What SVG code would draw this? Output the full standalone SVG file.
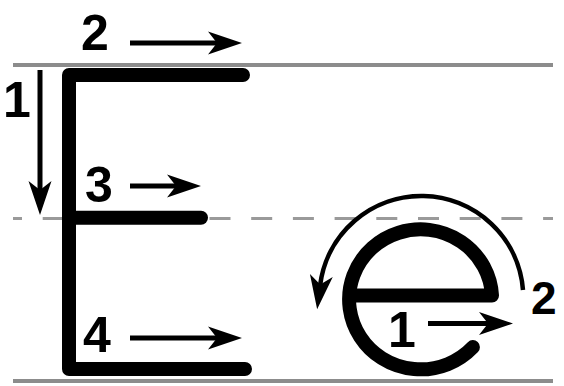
<svg xmlns="http://www.w3.org/2000/svg" width="564" height="386" viewBox="0 0 564 386">
  <style>
    .guide { stroke: #8c8c8c; stroke-width: 4; fill: none; }
    .dash { stroke: #9a9a9a; stroke-width: 3; stroke-dasharray: 21 20.7; stroke-dashoffset: 12; fill: none; }
    .stroke { stroke: #000; stroke-width: 14; fill: none; stroke-linecap: round; stroke-linejoin: round; }
    .arrow { stroke: #000; stroke-width: 5; fill: none; marker-end: url(#head); }
    .num { font-family: "Liberation Sans", Arial, sans-serif; font-weight: bold; font-size: 50px; fill: #000; }
  </style>
  <defs>
    <marker id="head" markerUnits="userSpaceOnUse" markerWidth="40" markerHeight="30" viewBox="-12 -15 40 30" refX="0" refY="0" orient="auto" overflow="visible">
      <path d="M24,0 L-10,-11.5 L-1,0 L-10,11.5 Z" fill="#000"/>
    </marker>
  </defs>

  <g id="guides">
    <line class="guide" x1="13" y1="65" x2="553" y2="65"/>
    <line class="dash" x1="13" y1="218.5" x2="553" y2="218.5"/>
    <line class="guide" x1="13" y1="381" x2="553" y2="381"/>
  </g>

  <g id="letter-E">
    <path class="stroke" d="M243,75 H69 V369 H245"/>
    <path class="stroke" d="M69,217.7 H201"/>
  </g>

  <g id="letter-e">
    <path class="stroke" d="M350,295.5 H492 A71.5,70 0 1 0 472.9,347.1"/>
  </g>

  <g id="connectors">
    <line class="arrow" x1="40" y1="70" x2="40" y2="191"/>
    <line class="arrow" x1="130" y1="43" x2="218" y2="43"/>
    <line class="arrow" x1="130" y1="186" x2="177" y2="186"/>
    <line class="arrow" x1="130" y1="338" x2="218" y2="338"/>
    <line class="arrow" x1="428" y1="323.5" x2="489" y2="323.5"/>
    <path class="arrow" style="stroke-width:4.5" d="M523,290 A102,102 0 0 0 320.1,285.4"/>
  </g>

  <g id="labels">
    <text class="num" x="3" y="117">1</text>
    <text class="num" x="81" y="50">2</text>
    <text class="num" x="85" y="202">3</text>
    <text class="num" x="83" y="352">4</text>
    <text class="num" x="388" y="347">1</text>
    <text class="num" x="531" y="314" style="font-size:46px">2</text>
  </g>
</svg>
